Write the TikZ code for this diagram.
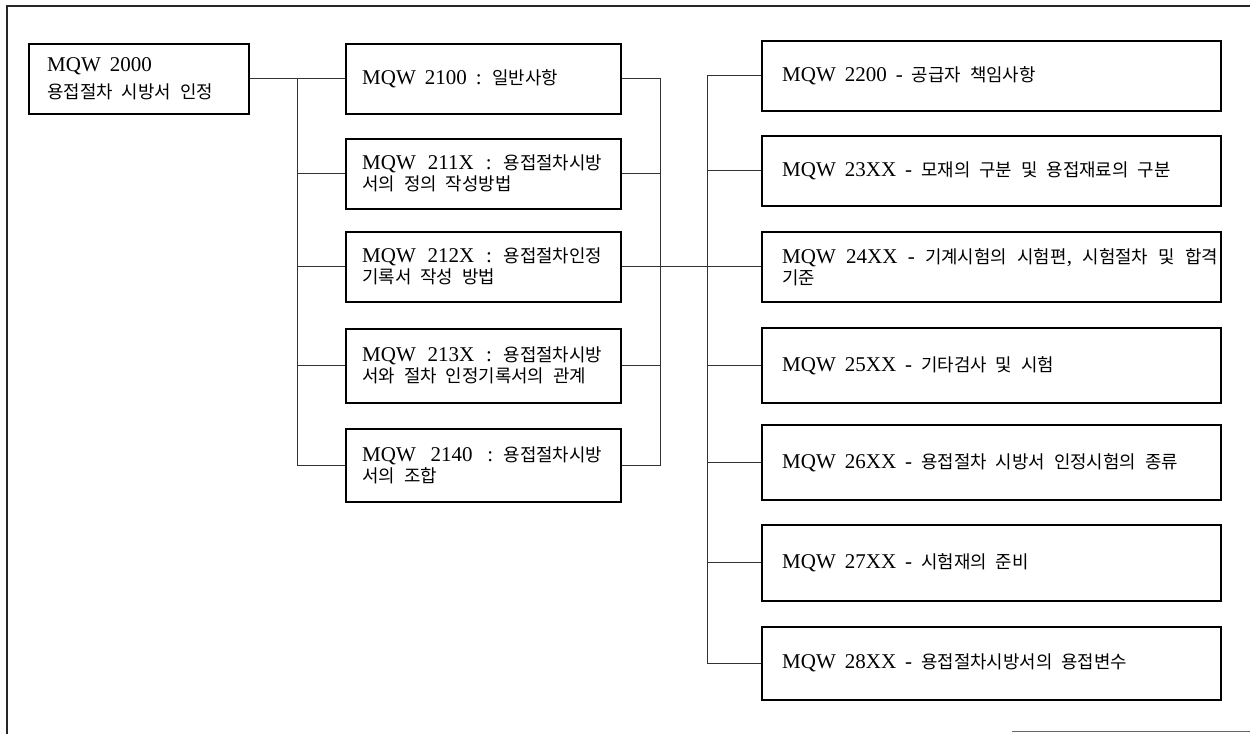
\documentclass[tikz,border=0pt]{standalone}
\usepackage{fontspec}
\setmainfont{Liberation Serif}
\newfontfamily\krfont{Noto Sans CJK KR}[Scale=0.85]
\newcommand\K[1]{{\krfont #1}}
\begin{document}
\begin{tikzpicture}[x=1pt,y=-1pt,
  box/.style={draw=black, line width=1.6pt, inner sep=0pt, anchor=north west},
  txt/.style={anchor=west, inner sep=0pt, align=left,
    font=\fontsize{21}{21}\selectfont,
    execute at begin node={\spaceskip=9pt plus 30pt\relax}},
  conn/.style={draw=black!80, line width=0.8pt},
  frame/.style={draw=black!85, line width=1.2pt}]
\useasboundingbox (0,0) rectangle (1250,734);

% outer frame
\coordinate (f1) at (7,734);
\coordinate (f2) at (7,6);
\coordinate (f3) at (1250,6);
\draw[frame] (f1) -- (f2) -- (f3);
\coordinate (b1) at (1012,731);
\coordinate (b2) at (1250,731);
\draw[draw=black!60, line width=1pt] (b1) -- (b2);

% root
\node[box, minimum width=220pt, minimum height=70pt] (A) at (28,43) {};
\node[txt, text width=200pt, font=\fontsize{21}{27}\selectfont] (At) at ([xshift=19pt]A.west)
  {MQW 2000\\\K{용접절차 시방서 인정}};

% middle column
\node[box, minimum width=275pt, minimum height=70pt] (m1) at (345,43) {};
\node[box, minimum width=275pt, minimum height=70pt] (m2) at (345,138) {};
\node[box, minimum width=275pt, minimum height=70pt] (m3) at (345,231) {};
\node[box, minimum width=275pt, minimum height=74pt] (m4) at (345,328) {};
\node[box, minimum width=275pt, minimum height=73pt] (m5) at (345,428) {};

\node[txt, text width=240pt] (m1t) at ([xshift=17pt]m1.west)
  {MQW 2100 : \K{일반사항}};
\node[txt, text width=240pt] (m2t) at ([xshift=17pt]m2.west)
  {\makebox[240pt][s]{MQW 211X : \K{용접절차시방}}\\\K{서의 정의 작성방법}};
\node[txt, text width=240pt] (m3t) at ([xshift=17pt]m3.west)
  {\makebox[240pt][s]{MQW 212X : \K{용접절차인정}}\\\K{기록서 작성 방법}};
\node[txt, text width=240pt] (m4t) at ([xshift=17pt]m4.west)
  {\makebox[240pt][s]{MQW 213X : \K{용접절차시방}}\\\K{서와 절차 인정기록서의 관계}};
\node[txt, text width=240pt] (m5t) at ([xshift=17pt]m5.west)
  {\makebox[240pt][s]{MQW 2140 : \K{용접절차시방}}\\\K{서의 조합}};

% right column
\node[box, minimum width=459pt, minimum height=70pt] (r1) at (761,40) {};
\node[box, minimum width=459pt, minimum height=70pt] (r2) at (761,135) {};
\node[box, minimum width=459pt, minimum height=70pt] (r3) at (761,231) {};
\node[box, minimum width=459pt, minimum height=75pt] (r4) at (761,327) {};
\node[box, minimum width=459pt, minimum height=75pt] (r5) at (761,424) {};
\node[box, minimum width=459pt, minimum height=76pt] (r6) at (761,524) {};
\node[box, minimum width=459pt, minimum height=73pt] (r7) at (761,626) {};

\node[txt, text width=436pt] (r1t) at ([xshift=21pt]r1.west)
  {MQW 2200 - \K{공급자 책임사항}};
\node[txt, text width=436pt] (r2t) at ([xshift=21pt]r2.west)
  {MQW 23XX - \K{모재의 구분 및 용접재료의 구분}};
\node[txt, text width=436pt] (r3t) at ([xshift=21pt]r3.west)
  {\makebox[436pt][s]{MQW 24XX - \K{기계시험의 시험편}, \K{시험절차 및 합격}}\\\K{기준}};
\node[txt, text width=436pt] (r4t) at ([xshift=21pt]r4.west)
  {MQW 25XX - \K{기타검사 및 시험}};
\node[txt, text width=436pt] (r5t) at ([xshift=21pt]r5.west)
  {MQW 26XX - \K{용접절차 시방서 인정시험의 종류}};
\node[txt, text width=436pt] (r6t) at ([xshift=21pt]r6.west)
  {MQW 27XX - \K{시험재의 준비}};
\node[txt, text width=436pt] (r7t) at ([xshift=21pt]r7.west)
  {MQW 28XX - \K{용접절차시방서의 용접변수}};

% trunks
\coordinate (t1) at (297,0);
\coordinate (t2) at (660,0);
\coordinate (t3) at (707,0);

% root to middle column
\draw[conn] (A.east) -- (A.east -| t1) |- (m5.west);
\foreach \i in {1,2,3,4} {
  \draw[conn] (m\i.west -| t1) -- (m\i.west);
}

% middle column to right trunk
\draw[conn] (m1.east) -| (m5.east -| t2) -- (m5.east);
\foreach \i in {2,4} {
  \draw[conn] (m\i.east) -- (m\i.east -| t2);
}
\draw[conn] (m3.east) -- (r3.west);

% right column trunk
\draw[conn] (r1.west) -| (r7.west -| t3) -- (r7.west);
\foreach \i in {2,4,5,6} {
  \draw[conn] (r\i.west -| t3) -- (r\i.west);
}
\end{tikzpicture}
\end{document}
